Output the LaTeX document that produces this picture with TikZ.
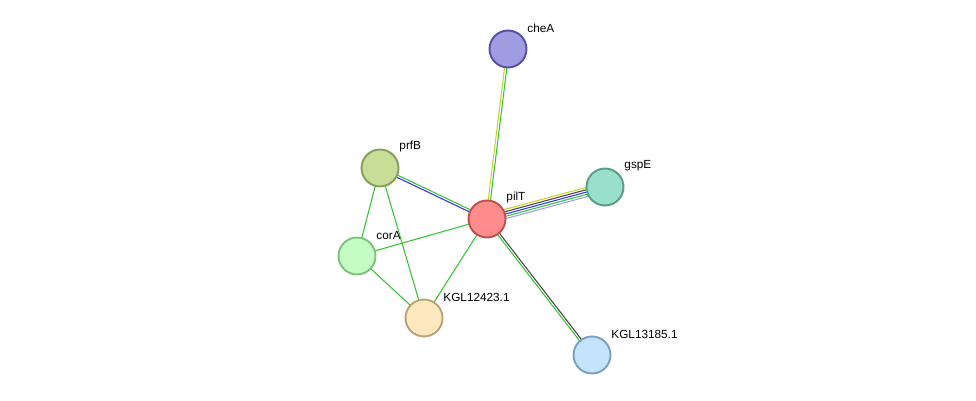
\documentclass[tikz,border=0pt]{standalone}
\usepackage{fontspec}
\setmainfont{Liberation Sans}
\usetikzlibrary{calc}

\definecolor{linkgreen}{HTML}{33C433}
\definecolor{linkyellow}{HTML}{C8D42C}
\definecolor{linkblue}{HTML}{3333EE}
\definecolor{linkgray}{HTML}{444444}
\definecolor{linklilac}{HTML}{9C9CF8}

\pgfdeclarelayer{background}
\pgfsetlayers{background,main}

\tikzset{
	protein/.style={draw, circle, line width=1.1pt, minimum size=0.74cm, inner sep=0pt},
	lbl/.style={font=\fontsize{6.7}{8}\selectfont, inner sep=0pt, label distance=2.6pt, xshift=1.2pt, yshift=-0.5pt},
	link/.style={line width=0.6pt}
}

%parallel links between two proteins: offset/colour pairs
\newcommand{\linkset}[3]{%
	\foreach \off/\col in {#3}{%
		\draw[link, \col] ($(#1)!\off!90:(#2)$) -- ($(#2)!\off!-90:(#1)$);}}

\begin{document}
\begin{tikzpicture}[x=0.02cm, y=-0.02cm]
			
			\useasboundingbox (0,0) rectangle (976,401);
			
			%Central protein
			\node (pilT) at (487,219) [protein, fill={rgb,255:red,255;green,140;blue,140}, draw={rgb,255:red,190;green,80;blue,80}, label={[lbl]45:pilT}]{};
			
			%Partners
			\node (cheA) at (508,49) [protein, fill={rgb,255:red,160;green,156;blue,226}, draw={rgb,255:red,88;green,80;blue,160}, label={[lbl]45:cheA}]{};
			\node (prfB) at (380,168) [protein, fill={rgb,255:red,198;green,222;blue,150}, draw={rgb,255:red,134;green,158;blue,90}, label={[lbl]45:prfB}]{};
			\node (gspE) at (605,187) [protein, fill={rgb,255:red,152;green,224;blue,204}, draw={rgb,255:red,90;green,156;blue,136}, label={[lbl]45:gspE}]{};
			\node (corA) at (357,256) [protein, fill={rgb,255:red,196;green,252;blue,196}, draw={rgb,255:red,128;green,192;blue,128}, label={[lbl]45:corA}]{};
			\node (kgla) at (424,318) [protein, fill={rgb,255:red,254;green,232;blue,192}, draw={rgb,255:red,184;green,164;blue,120}, label={[lbl]45:KGL12423.1}]{};
			\node (kglb) at (592,355) [protein, fill={rgb,255:red,196;green,228;blue,252}, draw={rgb,255:red,124;green,160;blue,192}, label={[lbl]45:KGL13185.1}]{};
			
			%Links among proteins
			\begin{pgfonlayer}{background}
			\linkset{pilT}{gspE}{2.6pt/linkyellow, 1.3pt/linkgray, 0pt/linkblue, -1.3pt/linkgreen, -2.6pt/linklilac}
			\linkset{pilT}{cheA}{0.65pt/linkyellow, -0.65pt/linkgreen}
			\linkset{pilT}{prfB}{0.65pt/linkblue, -0.65pt/linkgreen}
			\linkset{pilT}{kglb}{0.65pt/linkgray, -0.65pt/linkgreen}
			\linkset{pilT}{corA}{0pt/linkgreen}
			\linkset{pilT}{kgla}{0pt/linkgreen}
			\linkset{prfB}{corA}{0pt/linkgreen}
			\linkset{prfB}{kgla}{0pt/linkgreen}
			\linkset{corA}{kgla}{0pt/linkgreen}
			\end{pgfonlayer}
			
\end{tikzpicture}
\end{document}
